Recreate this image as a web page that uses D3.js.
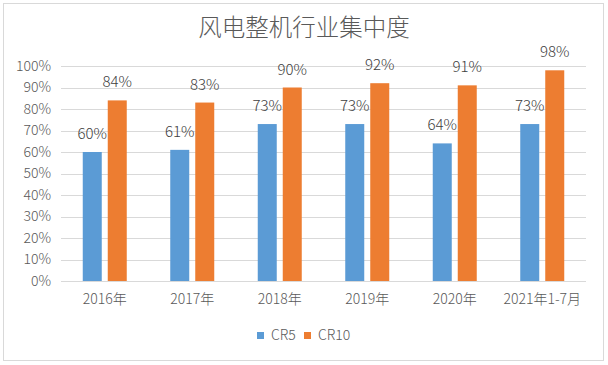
<!DOCTYPE html>
<html>
<head>
<meta charset="utf-8">
<script src="https://cdn.jsdelivr.net/npm/d3@7"></script>
<style>
  body { margin: 0; background: #fff; }
  text { font-family: "Noto Sans CJK SC", "Microsoft YaHei", sans-serif; font-weight: 300; }
</style>
</head>
<body>
<div id="chart"></div>
<script>
const categories = ['2016年', '2017年', '2018年', '2019年', '2020年', '2021年1-7月'];
const cr5 = [0.60, 0.61, 0.73, 0.73, 0.64, 0.73];
const cr10 = [0.84, 0.83, 0.90, 0.92, 0.91, 0.98];
const seriesNames = ['CR5', 'CR10'];
const yTicks = [0, 0.1, 0.2, 0.3, 0.4, 0.5, 0.6, 0.7, 0.8, 0.9, 1.0];

const W = 608, H = 365;
const margin = { top: 66, right: 22, bottom: 84, left: 61 };
const colors = { CR5: '#5B9BD5', CR10: '#ED7D31' };
const pct = d3.format('.0%');

const svg = d3.select('#chart').append('svg')
    .attr('width', W)
    .attr('height', H);

// outer frame
svg.append('rect')
    .attr('x', 3.5).attr('y', 3.5)
    .attr('width', 600).attr('height', 357)
    .attr('fill', '#fff')
    .attr('stroke', '#d9d9d9');

svg.append('text')
    .attr('x', 304)
    .attr('y', 36)
    .attr('text-anchor', 'middle')
    .style('font-size', '23.5px')
    .style('fill', '#595959')
    .text('风电整机行业集中度');

const x = d3.scaleBand()
    .domain(categories)
    .range([margin.left, W - margin.right]);

const y = d3.scaleLinear()
    .domain([0, 1])
    .range([H - margin.bottom, margin.top]);

// gridlines
svg.append('g')
    .selectAll('line')
    .data(yTicks)
    .enter()
    .append('line')
    .attr('x1', margin.left)
    .attr('x2', W - margin.right)
    .attr('y1', d => Math.round(y(d)) + 0.5)
    .attr('y2', d => Math.round(y(d)) + 0.5)
    .attr('stroke', '#d9d9d9');

// y axis labels
const yAxis = svg.append('g')
    .attr('transform', `translate(${margin.left - 10},0)`)
    .call(d3.axisLeft(y).tickValues(yTicks).tickFormat(pct).tickSize(0).tickPadding(0));
yAxis.select('.domain').remove();
yAxis.selectAll('text')
    .style('font-size', '14px')
    .style('fill', '#595959')
    .style('font-family', '"Noto Sans CJK SC", sans-serif');

// x axis labels
const xAxis = svg.append('g')
    .attr('transform', `translate(0,${H - margin.bottom + 10})`)
    .call(d3.axisBottom(x).tickSize(0));
xAxis.select('.domain').remove();
xAxis.selectAll('text')
    .style('font-size', '14px')
    .style('fill', '#595959')
    .style('font-family', '"Noto Sans CJK SC", sans-serif');

const barW = 19, gap = 6;
const inner = d3.scaleBand()
    .domain(seriesNames)
    .range([0, barW * 2 + gap])
    .paddingInner(gap / (barW + gap));

const rows = categories.map((c, i) => ({ cat: c, CR5: cr5[i], CR10: cr10[i] }));

const groups = svg.append('g')
    .selectAll('g')
    .data(rows)
    .enter()
    .append('g')
    .attr('transform', d => `translate(${x(d.cat) + x.bandwidth() / 2 - (barW * 2 + gap) / 2},0)`);

groups.selectAll('rect')
    .data(d => seriesNames.map(k => ({ key: k, value: d[k] })))
    .enter()
    .append('rect')
    .attr('x', d => inner(d.key))
    .attr('y', d => y(d.value))
    .attr('width', inner.bandwidth())
    .attr('height', d => y(0) - y(d.value))
    .attr('fill', d => colors[d.key]);

groups.selectAll('text.label')
    .data(d => seriesNames.map(k => ({ key: k, value: d[k] })))
    .enter()
    .append('text')
    .attr('class', 'label')
    .attr('x', d => inner(d.key) + inner.bandwidth() / 2)
    .attr('y', d => y(d.value) - 13)
    .attr('text-anchor', 'middle')
    .style('font-size', '15px')
    .style('fill', '#404040')
    .text(d => pct(d.value));

// legend
const legend = svg.append('g')
    .attr('transform', 'translate(257,331)');
const items = legend.selectAll('g')
    .data(seriesNames)
    .enter()
    .append('g')
    .attr('transform', (d, i) => `translate(${i * 47},0)`);
items.append('rect')
    .attr('width', 7)
    .attr('height', 7)
    .attr('y', 1)
    .attr('fill', d => colors[d]);
items.append('text')
    .attr('x', 14)
    .attr('y', 9)
    .style('font-size', '14px')
    .style('fill', '#595959')
    .text(d => d);
</script>
</body>
</html>
